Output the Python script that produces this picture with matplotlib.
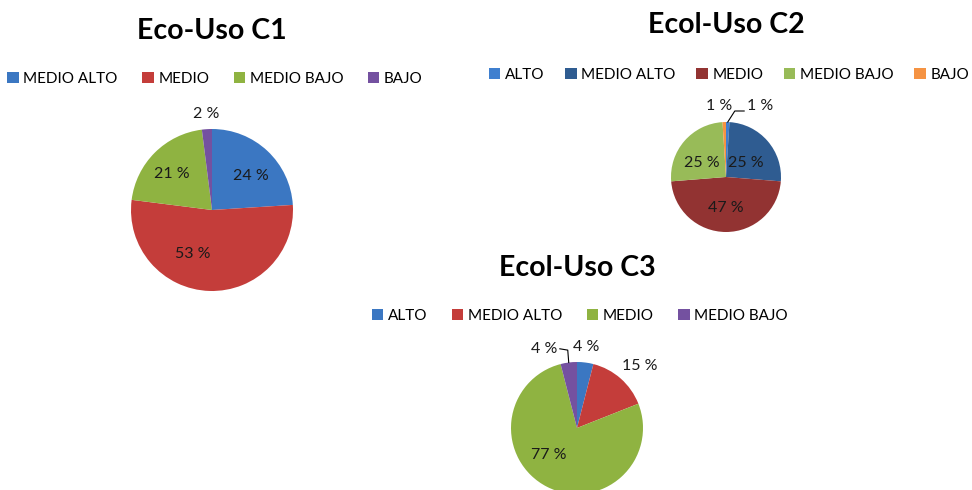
import numpy as np
import matplotlib
matplotlib.use("Agg")
import matplotlib.pyplot as plt
from matplotlib.patches import Patch

plt.rcParams['font.family'] = ['Lato', 'DejaVu Sans']

# datos
c1_labels = ['MEDIO ALTO', 'MEDIO', 'MEDIO BAJO', 'BAJO']
c1_values = [24, 53, 21, 2]
c2_labels = ['ALTO', 'MEDIO ALTO', 'MEDIO', 'MEDIO BAJO', 'BAJO']
c2_values = [1, 25, 47, 25, 1]
c3_labels = ['ALTO', 'MEDIO ALTO', 'MEDIO', 'MEDIO BAJO']
c3_values = [4, 15, 77, 4]

c1_colors = ['#3b77c2', '#c43d3a', '#8fb341', '#7451a0']
c2_colors = ['#3f7fcf', '#2f5c91', '#923332', '#98bb58', '#f59343']
c3_colors = ['#3b77c2', '#c43d3a', '#8fb341', '#7451a0']

W, H = 972, 490
fig = plt.figure(figsize=(W / 100, H / 100), dpi=100)


def pie_axes(cx, cy, r):
    # cx, cy, r in pixels (origin top-left)
    return fig.add_axes([(cx - r) / W, (H - cy - r) / H, 2 * r / W, 2 * r / H])


def draw_pie(ax, values, colors, dist, shift, leaders):
    ax.pie(values, colors=colors, startangle=90, counterclock=False,
           wedgeprops=dict(linewidth=0))
    ax.set_xlim(-1, 1)
    ax.set_ylim(-1, 1)
    ax.set_aspect('equal')
    ax.axis('off')
    total = float(sum(values))
    start = 90.0
    for i, v in enumerate(values):
        span = 360.0 * v / total
        mid = start - span / 2
        start -= span
        th = np.radians(mid + shift[i])
        x, y = dist[i] * np.cos(th), dist[i] * np.sin(th)
        ax.text(x, y, f"{v} %", ha='center', va='center', fontsize=11.5,
                color='#1a1a1a', clip_on=False)
        if leaders[i] is not None:
            m = np.radians(mid)
            p0 = (np.cos(m), np.sin(m))
            p1, p2 = leaders[i]
            ax.plot([p0[0], p1[0], p2[0]], [p0[1], p1[1], p2[1]],
                    color='black', lw=0.8, clip_on=False)


def legend(labels, colors, x, y, spacing=1.6):
    handles = [Patch(facecolor=c, edgecolor='none') for c in colors]
    fig.legend(handles, labels, loc='center', bbox_to_anchor=(x / W, 1 - y / H),
               ncol=len(labels), frameon=False, fontsize=11,
               handlelength=0.75, handleheight=0.75, handletextpad=0.3,
               columnspacing=spacing)


# C1
fig.text(212 / W, 1 - 31 / H, 'Eco-Uso C1', ha='center', va='center',
         fontsize=20.5, fontweight='bold')
legend(c1_labels, c1_colors, 215, 79)
ax1 = pie_axes(212, 210, 81)
draw_pie(ax1, c1_values, c1_colors,
         dist=[0.64, 0.60, 0.66, 1.19], shift=[-6, -22, 3, 0],
         leaders=[None, None, None, None])

# C2
fig.text(726 / W, 1 - 25 / H, 'Ecol-Uso C2', ha='center', va='center',
         fontsize=20.5, fontweight='bold')
legend(c2_labels, c2_colors, 729, 75, spacing=1.35)
ax2 = pie_axes(726, 177, 55)
draw_pie(ax2, c2_values, c2_colors,
         dist=[1.43, 0.44, 0.56, 0.50, 1.30], shift=[-24, -6, 0, 11, 4],
         leaders=[((0.16, 1.20), (0.33, 1.20)), None, None, None, None])

# C3
fig.text(577 / W, 1 - 268 / H, 'Ecol-Uso C3', ha='center', va='center',
         fontsize=20.5, fontweight='bold')
legend(c3_labels, c3_colors, 580, 316)
ax3 = pie_axes(577, 428, 66)
draw_pie(ax3, c3_values, c3_colors,
         dist=[1.23, 1.34, 0.59, 1.30], shift=[1, -4, -19, 15],
         leaders=[None, None, None, ((-0.14, 1.18), (-0.26, 1.20))])

fig.savefig('out.png', dpi=100, facecolor='white')
